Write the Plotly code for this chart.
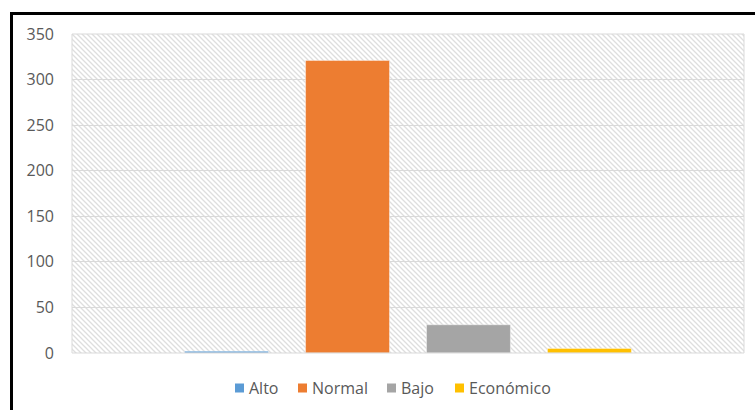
import base64
import plotly.graph_objects as go

categories = ["Total"]
series_names = ["Alto", "Normal", "Bajo", "Económico"]
series_values = [2, 321, 31, 5]
series_colors = ["#5B9BD5", "#ED7D31", "#A5A5A5", "#FFC000"]
y_ticks = [0, 50, 100, 150, 200, 250, 300, 350]

W, H = 755, 410
L, R, T, B = 72, 11, 34, 57
pw, ph = W - L - R, H - T - B

def px_x(p):
    return (p - L) / pw

def px_y(p):
    return (H - B - p) / ph

fig = go.Figure()
for name, val, col in zip(series_names, series_values, series_colors):
    fig.add_trace(go.Bar(
        x=categories, y=[val], name=name, showlegend=False,
        marker=dict(color=col, line=dict(color="rgba(255,255,255,0.6)", width=0.7)),
    ))

# hatch background for plot area
svg = (
    f'<svg xmlns="http://www.w3.org/2000/svg" width="{pw}" height="{ph}" viewBox="0 0 {pw} {ph}">'
    '<defs><pattern id="p" width="5" height="5" patternUnits="userSpaceOnUse">'
    '<path d="M-1,-1 L6,6 M-1,4 L1,6 M4,-1 L6,1" stroke="#dedede" stroke-width="1.3"/>'
    '</pattern></defs>'
    f'<rect width="{pw}" height="{ph}" fill="white"/>'
    f'<rect width="{pw}" height="{ph}" fill="url(#p)"/>'
    '</svg>'
)
src = "data:image/svg+xml;base64," + base64.b64encode(svg.encode()).decode()

# custom legend (Excel style: small square + label)
legend_sym_x = [235, 298, 387, 455]
legend_y = 388
shapes = [
    dict(type="rect", xref="paper", yref="paper", x0=0, x1=1, y0=0, y1=1,
         line=dict(color="#d9d9d9", width=1), layer="above"),
    dict(type="line", xref="paper", yref="paper",
         x0=px_x(11.5), x1=1.2, y0=px_y(13.5), y1=px_y(13.5),
         line=dict(color="black", width=3)),
    dict(type="line", xref="paper", yref="paper",
         x0=px_x(11.5), x1=px_x(11.5), y0=-0.3, y1=px_y(12),
         line=dict(color="black", width=3)),
]
annotations = []
for sx, name, col in zip(legend_sym_x, series_names, series_colors):
    shapes.append(dict(type="rect", xref="paper", yref="paper",
                       x0=px_x(sx), x1=px_x(sx + 9),
                       y0=px_y(legend_y + 4.5), y1=px_y(legend_y - 4.5),
                       fillcolor=col, line=dict(width=0)))
    annotations.append(dict(text=name, xref="paper", yref="paper",
                            x=px_x(sx + 12), y=px_y(legend_y), xanchor="left",
                            yanchor="middle", showarrow=False,
                            font=dict(size=16, color="#595959")))

fig.update_layout(
    width=W, height=H,
    margin=dict(l=L, r=R, t=T, b=B, pad=0, autoexpand=False),
    paper_bgcolor="white",
    plot_bgcolor="rgba(0,0,0,0)",
    barmode="group",
    bargap=0.28,
    bargroupgap=0.306,
    font=dict(family="Open Sans", size=16, color="#595959"),
    showlegend=False,
    images=[dict(source=src, xref="paper", yref="paper", x=0, y=1, sizex=1, sizey=1,
                 xanchor="left", yanchor="top", sizing="stretch", layer="below")],
    xaxis=dict(showticklabels=False, showgrid=False, zeroline=False, showline=False,
               range=[-0.5, 0.5]),
    yaxis=dict(range=[0, 350], tickvals=y_ticks, showgrid=True, gridcolor="#d9d9d9",
               gridwidth=1, zeroline=False, showline=False, ticks="",
               ticklabelstandoff=17, tickfont=dict(size=16, color="#595959")),
    shapes=shapes,
    annotations=annotations,
)
fig.write_html("out.html")
